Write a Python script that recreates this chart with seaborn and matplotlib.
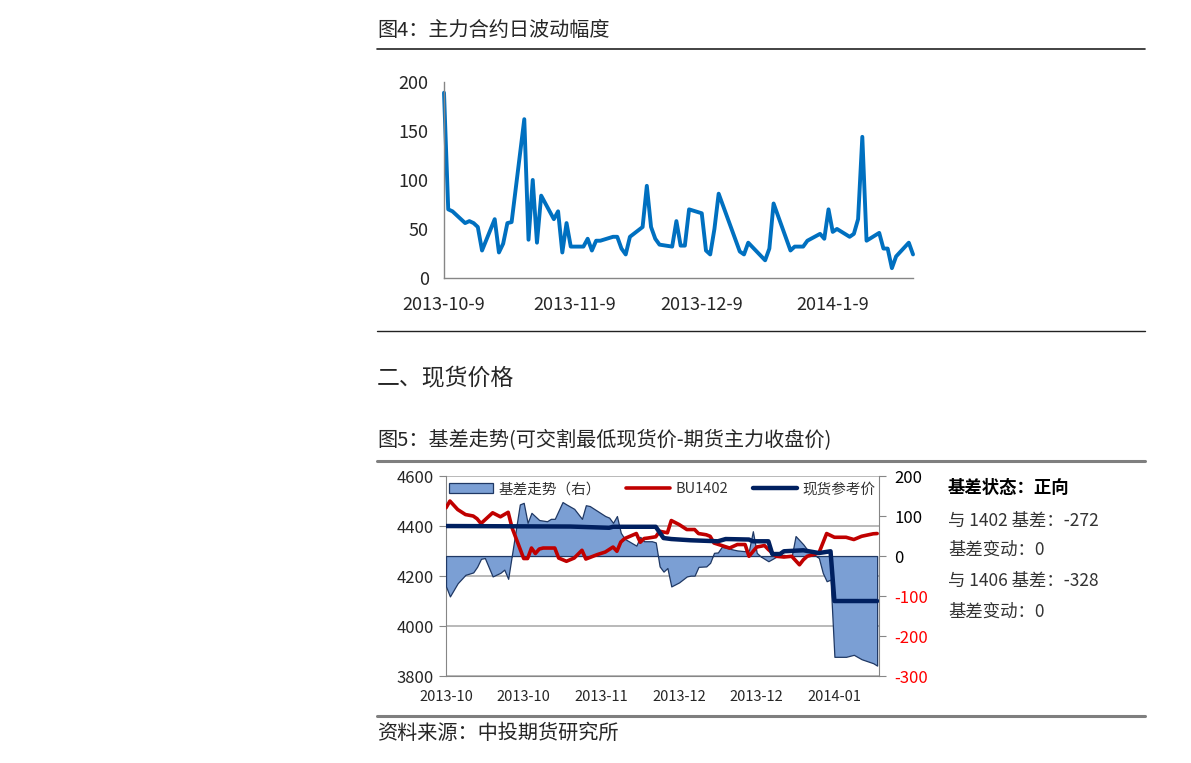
import pandas as pd
import matplotlib
matplotlib.use('Agg')
import matplotlib.pyplot as plt
import seaborn as sns
from matplotlib.lines import Line2D
from matplotlib.patches import Patch

#%%
# fig 4 - daily range of main contract
vol_dates = ['2013-10-09', '2013-10-10', '2013-10-11', '2013-10-14', '2013-10-15', '2013-10-16',
             '2013-10-17', '2013-10-18', '2013-10-21', '2013-10-22', '2013-10-23', '2013-10-24',
             '2013-10-25', '2013-10-28', '2013-10-29', '2013-10-30', '2013-10-31', '2013-11-01',
             '2013-11-04', '2013-11-05', '2013-11-06', '2013-11-07', '2013-11-08', '2013-11-11',
             '2013-11-12', '2013-11-13', '2013-11-14', '2013-11-15', '2013-11-18', '2013-11-19',
             '2013-11-20', '2013-11-21', '2013-11-22', '2013-11-25', '2013-11-26', '2013-11-27',
             '2013-11-28', '2013-11-29', '2013-12-02', '2013-12-03', '2013-12-04', '2013-12-05',
             '2013-12-06', '2013-12-09', '2013-12-10', '2013-12-11', '2013-12-12', '2013-12-13',
             '2013-12-18', '2013-12-19', '2013-12-20', '2013-12-24', '2013-12-25', '2013-12-26',
             '2013-12-30', '2013-12-31', '2014-01-02', '2014-01-03', '2014-01-06', '2014-01-07',
             '2014-01-08', '2014-01-09', '2014-01-10', '2014-01-13', '2014-01-14', '2014-01-15',
             '2014-01-16', '2014-01-17', '2014-01-20', '2014-01-21', '2014-01-22', '2014-01-23',
             '2014-01-24', '2014-01-27', '2014-01-28']
vol_values = [189, 70, 68, 56, 58, 56,
              52, 28, 60, 26, 35, 56,
              57, 162, 39, 100, 36, 84,
              60, 68, 26, 56, 32, 32,
              40, 28, 38, 38, 42, 42,
              30, 24, 42, 52, 94, 52,
              40, 34, 32, 58, 33, 33,
              70, 66, 28, 24, 50, 86,
              27, 24, 36, 18, 30, 76,
              28, 32, 32, 38, 45, 40,
              70, 47, 50, 42, 45, 60,
              144, 38, 46, 30, 30, 10,
              22, 36, 24]
vol_ticks = ['2013-10-09', '2013-11-09', '2013-12-09', '2014-01-09']
vol_ticklabels = ['2013-10-9', '2013-11-9', '2013-12-9', '2014-1-9']

#%%
# fig 5 - basis, days counted from 2013-10-09
start = '2013-10-09'
fut_day = [0, 1, 3, 5, 7, 8, 9, 12, 14, 16, 17, 20, 21, 22, 23, 24, 25, 28, 29, 31,
           33, 35, 36, 39, 41, 42, 43, 44, 45, 46, 49, 50, 51, 52, 54, 55, 57, 58, 60, 62,
           64, 65, 67, 68, 69, 71, 73, 75, 77, 78, 80, 82, 83, 85, 87, 89, 91, 92, 93, 96,
           98, 100, 103, 105, 107, 110, 111]
fut_price = [4473, 4500, 4466, 4446, 4440, 4429, 4410, 4453, 4437, 4455, 4393, 4270, 4270, 4312, 4290, 4308, 4312, 4312, 4272, 4259,
             4272, 4303, 4268, 4286, 4296, 4306, 4316, 4299, 4336, 4350, 4370, 4335, 4350, 4352, 4357, 4379, 4373, 4422, 4406, 4386,
             4386, 4370, 4365, 4359, 4332, 4322, 4312, 4326, 4326, 4279, 4316, 4322, 4306, 4279, 4276, 4279, 4245, 4265, 4279, 4292,
             4370, 4355, 4355, 4346, 4359, 4369, 4370]
spot_day = [0, 32, 42, 43, 54, 56, 58, 63, 70, 72, 78, 79, 83, 84, 86, 87, 92, 96, 99, 100, 111]
spot_price = [4400, 4398, 4393, 4397, 4397, 4352, 4348, 4343, 4339, 4348, 4346, 4339, 4339, 4288, 4288, 4299, 4303, 4292, 4299, 4100, 4100]
basis_day = [0, 1, 3, 5, 7, 8, 9, 10, 12, 14, 15, 16, 19, 20, 21, 22, 24, 26, 27, 28,
             30, 31, 33, 35, 36, 37, 41, 42, 43, 44, 45, 46, 49, 50, 51, 53, 54, 55, 56, 57,
             58, 60, 62, 63, 64, 65, 67, 68, 69, 70, 71, 74, 75, 77, 78, 79, 80, 81, 83, 85,
             87, 89, 90, 92, 93, 96, 97, 98, 99, 100, 103, 105, 107, 110, 111]
basis = [-76, -101, -68, -47, -41, -27, -7, -5, -51, -42, -34, -57, 129, 133, 83, 108, 90, 87, 93, 93,
         135, 129, 118, 93, 127, 125, 100, 96, 83, 100, 58, 43, 26, 48, 37, 37, 34, -26, -39, -30,
         -76, -66, -51, -49, -49, -27, -26, -17, 8, 9, 23, 16, 14, 12, 14, 62, 8, -1, -13, -2,
         3, -1, 50, 29, 16, -5, -42, -63, -59, -252, -252, -247, -258, -268, -274]
basis_tick_day = [0, 20, 40, 60, 80, 100]
basis_ticklabels = ['2013-10', '2013-10', '2013-11', '2013-12', '2013-12', '2014-01']

status_lines = ['基差状态：正向', '与 1402 基差：-272', '基差变动：0', '与 1406 基差：-328', '基差变动：0']

#%%
sns.set_style('white')
plt.rcParams['font.family'] = ['Noto Sans CJK SC', 'DejaVu Sans']
plt.rcParams['axes.unicode_minus'] = False

fig = plt.figure(figsize=(11.91, 7.63), dpi=100)
grey = '#868686'

# page texts and rules
fig.text(0.3166, 0.9594, '图4：主力合约日波动幅度', fontsize=14.5, va='center', ha='left')
fig.add_artist(Line2D([0.3166, 0.9614], [0.9358, 0.9358], color='#222222', lw=1.2))
fig.add_artist(Line2D([0.3166, 0.9614], [0.5662, 0.5662], color='#222222', lw=1.0))
fig.text(0.3166, 0.5033, '二、现货价格', fontsize=16.5, va='center', ha='left')
fig.text(0.3166, 0.4220, '图5：基差走势(可交割最低现货价-期货主力收盘价)', fontsize=14.5, va='center', ha='left')
fig.add_artist(Line2D([0.3166, 0.9614], [0.3958, 0.3958], color='#7f7f7f', lw=2.2))
fig.add_artist(Line2D([0.3166, 0.9614], [0.0616, 0.0616], color='#7f7f7f', lw=2.2))
fig.text(0.3166, 0.0393, '资料来源：中投期货研究所', fontsize=14.5, va='center', ha='left')

#%%
# fig 4
ax1 = fig.add_axes([0.3728, 0.6357, 0.3938, 0.2569])
sns.lineplot(x=pd.to_datetime(vol_dates), y=vol_values, ax=ax1, color='#0070C0', linewidth=2.8, clip_on=False)
ax1.set_xlim(pd.Timestamp('2013-10-09'), pd.Timestamp('2014-01-28'))
ax1.set_ylim(0, 200)
ax1.set_yticks([0, 50, 100, 150, 200])
ax1.set_xticks(pd.to_datetime(vol_ticks))
ax1.set_xticklabels(vol_ticklabels)
ax1.set(xlabel='', ylabel='')
for s in ['top', 'right']:
    ax1.spines[s].set_visible(False)
for s in ['left', 'bottom']:
    ax1.spines[s].set_color(grey)
    ax1.spines[s].set_linewidth(1.0)
ax1.tick_params(axis='both', direction='out', length=4, color=grey, labelsize=13, pad=7)
ax1.tick_params(axis='x', pad=9)

#%%
# fig 5
t0 = pd.Timestamp(start)
fut_x = t0 + pd.to_timedelta(fut_day, unit='D')
spot_x = t0 + pd.to_timedelta(spot_day, unit='D')
basis_x = t0 + pd.to_timedelta(basis_day, unit='D')

axg = fig.add_axes([0.3745, 0.1140, 0.3636, 0.2621])
axb = axg.twinx()
axp = axg.twinx()

axb.fill_between(basis_x, basis, 0, facecolor='#7B9FD4', edgecolor='#1F3864', linewidth=0.9)
sns.lineplot(x=fut_x, y=fut_price, ax=axp, color='#C00000', linewidth=2.6)
sns.lineplot(x=spot_x, y=spot_price, ax=axp, color='#002060', linewidth=3.2)

axg.set_ylim(3800, 4600)
axp.set_ylim(3800, 4600)
axb.set_ylim(-300, 200)
axg.set_yticks([3800, 4000, 4200, 4400, 4600])
axb.set_yticks([-300, -200, -100, 0, 100, 200])
axg.set_xlim(t0, t0 + pd.Timedelta(days=111.5))
axg.set_xticks(t0 + pd.to_timedelta(basis_tick_day, unit='D'))
axg.set_xticklabels(basis_ticklabels)
axg.yaxis.grid(True, color='#a6a6a6', linewidth=1.1)
axg.set_axisbelow(True)

axp.set_axis_off()
axp.set(xlabel='', ylabel='')
for s in ['top', 'right']:
    axg.spines[s].set_visible(False)
for s in ['left', 'bottom']:
    axg.spines[s].set_color(grey)
for s in ['top', 'left', 'bottom']:
    axb.spines[s].set_visible(False)
axb.spines['right'].set_color(grey)
axg.tick_params(axis='y', direction='out', length=5, color=grey, labelsize=12, pad=4)
axg.tick_params(axis='x', direction='out', length=5, color=grey, labelsize=10.5, pad=5)
axb.tick_params(axis='y', direction='out', length=5, color=grey, labelsize=12, pad=6)
for lbl, v in zip(axb.get_yticklabels(), [-300, -200, -100, 0, 100, 200]):
    lbl.set_color('red' if v < 0 else 'black')

handles = [Patch(facecolor='#7B9FD4', edgecolor='#1F3864', linewidth=0.9),
           Line2D([], [], color='#C00000', linewidth=2.6),
           Line2D([], [], color='#002060', linewidth=3.2)]
leg = axp.legend(handles, ['基差走势（右）', 'BU1402', '现货参考价'], loc='upper center',
                 bbox_to_anchor=(0.5, 1.035), ncol=3, frameon=False, fontsize=10.5,
                 handlelength=3.0, columnspacing=1.7, handletextpad=0.4)
for txt in leg.get_texts():
    txt.set_color('#333333')

# status text on the right
ys = [0.3604, 0.3172, 0.2792, 0.2386, 0.1980]
for i, (line, y) in enumerate(zip(status_lines, ys)):
    fig.text(0.796, y, line, fontsize=12.5, va='center', ha='left',
             fontweight='bold' if i == 0 else 'normal',
             color='black' if i == 0 else '#333333')

plt.savefig('out.png', dpi=100)
